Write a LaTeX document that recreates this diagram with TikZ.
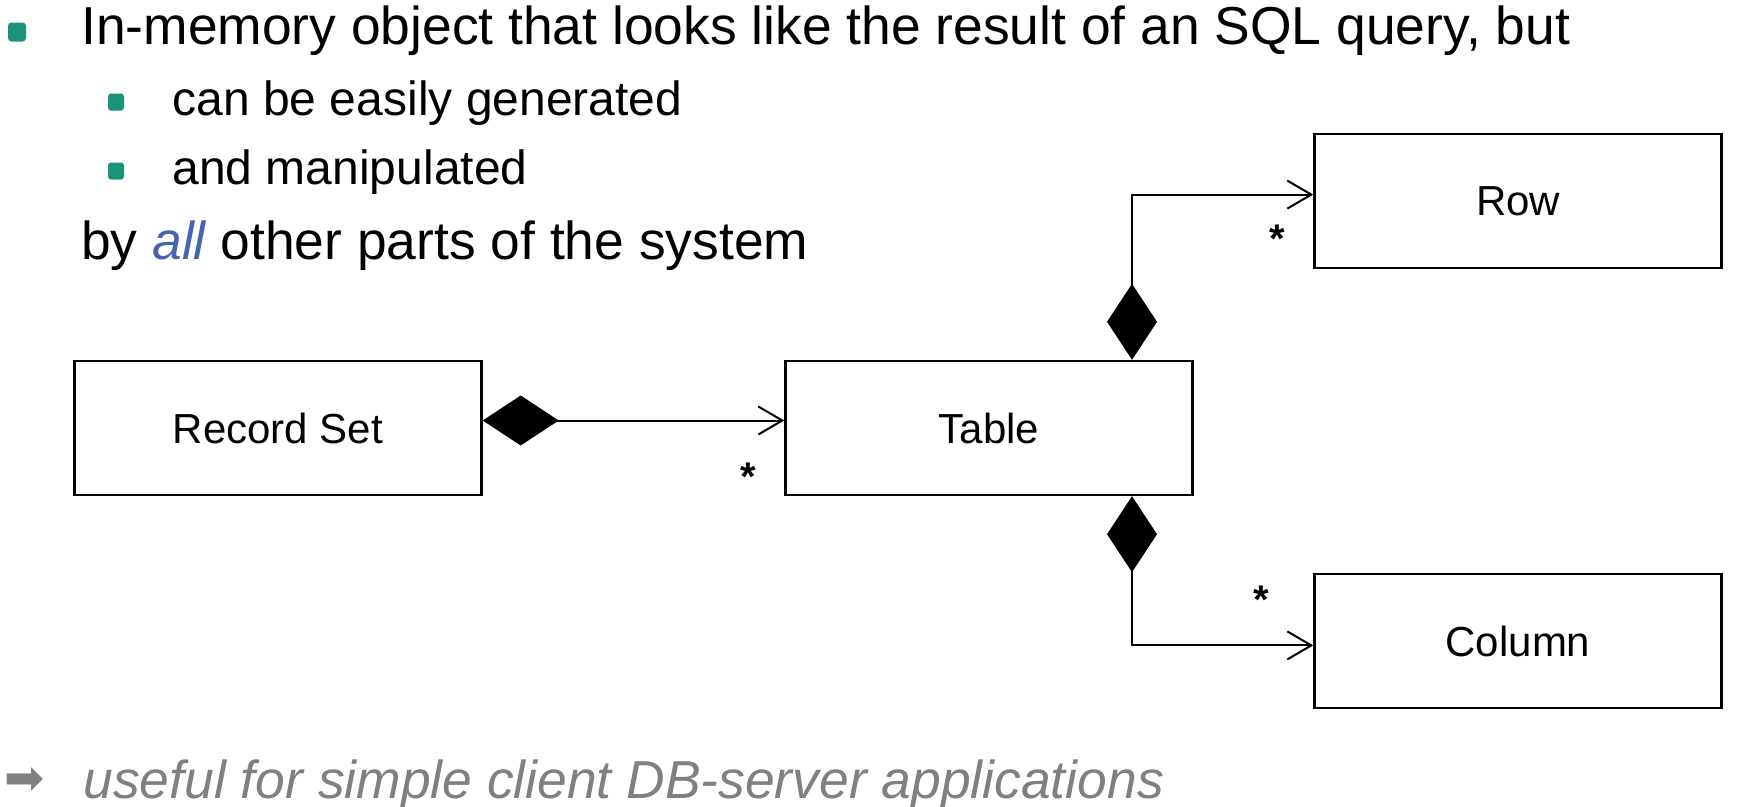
\documentclass[tikz,border=0pt]{standalone}
\usepackage{fontspec}
\setmainfont{Liberation Sans}
\newfontfamily\djv{DejaVu Sans}
\usetikzlibrary{arrows.meta,calc}
\definecolor{bulletgreen}{HTML}{1A9479}
\definecolor{allblue}{HTML}{4565B0}
\definecolor{notegray}{HTML}{808080}
\begin{document}
\begin{tikzpicture}[x=1pt,y=-1pt,
  cls/.style={draw,line width=2.4pt,minimum width=407pt,minimum height=134pt,inner sep=0pt,font=\fontsize{42}{50}\selectfont},
  conn/.style={line width=2pt},
  comp/.style={{Diamond[length=76pt,width=50pt]}-{Straight Barb[length=24pt,width=28pt]}},
  mult/.style={inner sep=0pt,anchor=base,font=\fontsize{40}{48}\selectfont\bfseries},
  txtA/.style={inner sep=0pt,anchor=base west,font=\fontsize{53.4}{60}\selectfont},
  txtB/.style={inner sep=0pt,anchor=base west,font=\fontsize{48}{56}\selectfont},
  bulA/.style={fill=bulletgreen,rounded corners=3.5pt,minimum width=18pt,minimum height=19pt,inner sep=0pt},
  bulB/.style={fill=bulletgreen,rounded corners=3pt,minimum width=16pt,minimum height=17pt,inner sep=0pt}
]
\useasboundingbox (0,0) rectangle (1744,806);

% text lines
\node[bulA] (b1) at (17,32) {};
\node[txtA] (t1) at (81,44.5) {In-memory object that looks like the result of an SQL query, but};
\node[bulB] (b2) at (116,102) {};
\node[txtB] (t2) at (172.4,115.7) {can be easily generated};
\node[bulB] (b3) at (116,171) {};
\node[txtB] (t3) at (172.4,184.6) {and manipulated};
\node[txtA] (t4) at (81,259) {by \textcolor{allblue}{\itshape all} other parts of the system};

\node[inner sep=0pt,anchor=center,text=notegray,font=\djv\fontsize{48}{54}\selectfont] (arr) at (25,781) {➡};
\node[txtA,text=notegray,font=\fontsize{53.4}{60}\selectfont\itshape] (t5) at (83.4,798.5) {useful for simple client DB-server applications};

% classes
\node[cls] (rs) at (278,428) {Record Set};
\node[cls] (tab) at (989,428) {Table};
\node[cls] (row) at (1518,201) {Row};
\node[cls] (col) at (1518,641) {Column};

% connectors
\draw[conn,comp] ([yshift=7.5pt]rs.east) -- ([yshift=7.5pt]tab.west);
\draw[conn,comp] ([xshift=143pt]tab.north) |- ([yshift=6.4pt]row.west);
\draw[conn,comp] ([xshift=143pt]tab.south) |- ([yshift=-4.4pt]col.west);

% multiplicities
\node[mult] (m1) at (748,490.5) {*};
\node[mult] (m2) at (1277,252.5) {*};
\node[mult] (m3) at (1261,613.5) {*};
\end{tikzpicture}
\end{document}
